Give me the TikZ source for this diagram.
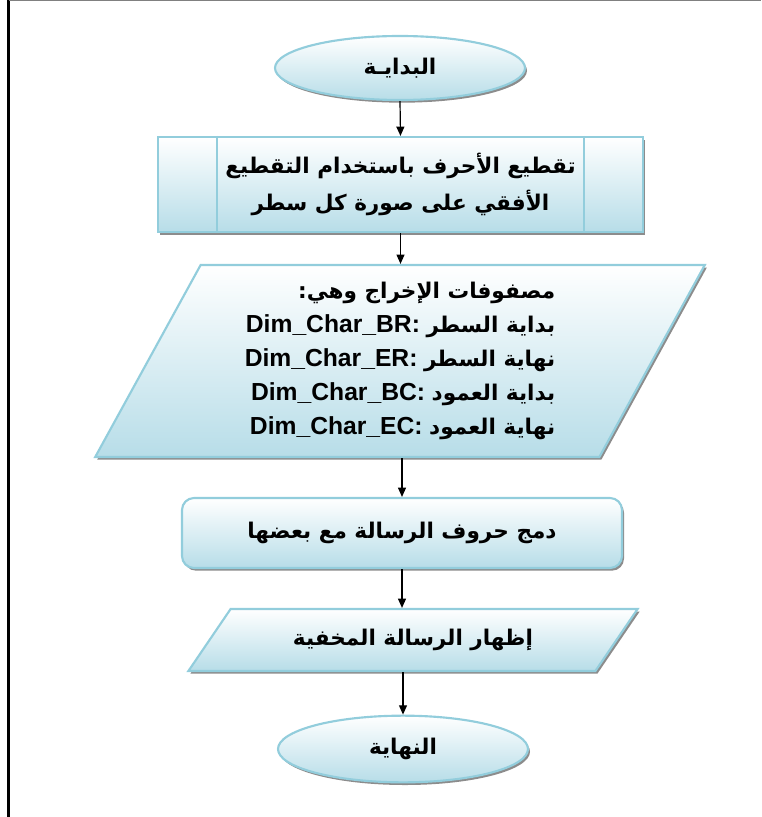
\documentclass[tikz,border=0pt]{standalone}
\usepackage{fontspec}
\usetikzlibrary{shapes.geometric,shadows,arrows.meta}
\TeXXeTstate=1
\newfontfamily\arfont[Script=Arabic]{DejaVu Sans}
\newfontfamily\latfont{Liberation Sans}
\definecolor{bord}{RGB}{146,205,220}
\definecolor{fillb}{RGB}{183,221,232}
\newcommand{\ar}[1]{{\arfont\bfseries\beginR #1\endR}}
\newcommand{\lt}[1]{{\latfont\bfseries\fontsize{18.5}{25.5}\selectfont #1}}
\begin{document}
\begin{tikzpicture}[x=0.75pt,y=-0.75pt,
  blk/.style={draw=bord, line width=1.6pt, top color=white, bottom color=fillb,
    drop shadow={shadow xshift=1.5pt,shadow yshift=-2pt,fill=black!45,opacity=1},
    align=center, font=\fontsize{16.2}{28}\selectfont, inner sep=0pt},
  arr/.style={line width=0.9pt, -{Triangle[length=7pt,width=6pt]}}]
\useasboundingbox (0,0) rectangle (761,817);
\draw[line width=1.6pt] (8.5,0) -- (8.5,817);
\draw[gray, line width=1pt] (9,0.5) -- (761,0.5);

\node[blk, ellipse, minimum width=187.5pt, minimum height=48pt] (start) at (400,68) {\ar{البدايـة}};
\node[blk, rectangle, minimum width=363.75pt, minimum height=71.25pt] (box) at (400.5,184.5)
  {\ar{تقطيع الأحرف باستخدام التقطيع}\\\ar{الأفقي على صورة كل سطر}};
\draw[bord, line width=1.6pt] ([xshift=45pt]box.north west) -- ([xshift=45pt]box.south west);
\draw[bord, line width=1.6pt] ([xshift=-45pt]box.north east) -- ([xshift=-45pt]box.south east);

\node[blk, trapezium, trapezium left angle=62.5, trapezium right angle=117.5, trapezium stretches=true,
  minimum width=457.5pt, minimum height=144pt, align=right, font=\fontsize{16.2}{25.5}\selectfont] (p1) at (400,361)
  {\ar{مصفوفات الإخراج وهي:}\\
   \lt{Dim\_Char\_BR:} \ar{بداية السطر}\\
   \lt{Dim\_Char\_ER:} \ar{نهاية السطر}\\
   \lt{Dim\_Char\_BC:} \ar{بداية العمود}\\
   \lt{Dim\_Char\_EC:} \ar{نهاية العمود}};

\node[blk, rounded corners=9pt, minimum width=330pt, minimum height=52.5pt] (mrg) at (402,533)
  {\ar{دمج حروف الرسالة مع بعضها}};
\node[blk, trapezium, trapezium left angle=38, trapezium right angle=142, trapezium stretches=true,
  minimum width=337.5pt, minimum height=46.5pt] (show) at (413,640)
  {\ar{إظهار الرسالة المخفية}};
\node[blk, ellipse, minimum width=187.5pt, minimum height=50pt] (end) at (403,749) {\ar{النهاية}};

\draw[arr] (start.south) -- (box.north);
\draw[arr] (box.south) -- (box.south |- p1.north);
\draw[arr] (mrg.north |- p1.south) -- (mrg.north);
\draw[arr] (mrg.south) -- (mrg.south |- show.north);
\draw[arr] (end.north |- show.south) -- (end.north);
\end{tikzpicture}
\end{document}
